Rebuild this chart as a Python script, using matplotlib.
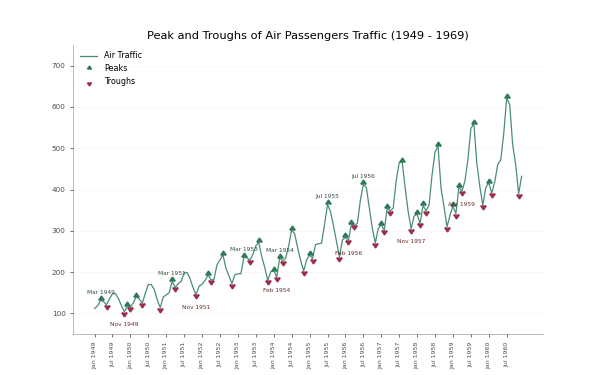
import numpy as np
import pandas as pd
import matplotlib
matplotlib.use("Agg")
import matplotlib.pyplot as plt
import matplotlib as mpl

# Monthly air passengers (thousands), 1949-1960
y1949 = [112, 118, 132, 129, 121, 135, 148, 148, 136, 119, 104, 118]
y1950 = [115, 126, 141, 135, 125, 149, 170, 170, 158, 133, 114, 140]
y1951 = [145, 150, 178, 163, 172, 178, 199, 199, 184, 162, 146, 166]
y1952 = [171, 180, 193, 181, 183, 218, 230, 242, 209, 191, 172, 194]
y1953 = [196, 196, 236, 235, 229, 243, 264, 272, 237, 211, 180, 201]
y1954 = [204, 188, 235, 227, 234, 264, 302, 293, 259, 229, 203, 229]
y1955 = [242, 233, 267, 269, 270, 315, 364, 347, 312, 274, 237, 278]
y1956 = [284, 277, 317, 313, 318, 374, 413, 405, 355, 306, 271, 306]
y1957 = [315, 301, 356, 348, 355, 422, 465, 467, 404, 347, 305, 336]
y1958 = [340, 318, 362, 348, 363, 435, 491, 505, 404, 359, 310, 337]
y1959 = [360, 342, 406, 396, 420, 472, 548, 559, 463, 407, 362, 405]
y1960 = [417, 391, 419, 461, 472, 535, 622, 606, 508, 461, 390, 432]

values = np.array(y1949 + y1950 + y1951 + y1952 + y1953 + y1954 +
                  y1955 + y1956 + y1957 + y1958 + y1959 + y1960)
dates = pd.date_range("1949-01-01", periods=len(values), freq="MS")
date_labels = [d.strftime("%b %Y") for d in dates]
title = "Peak and Troughs of Air Passengers Traffic (1949 - 1969)"

# Peaks and troughs
doublediff = np.diff(np.sign(np.diff(values)))
peak_locations = np.where(doublediff == -2)[0] + 1
doublediff2 = np.diff(np.sign(np.diff(-1 * values)))
trough_locations = np.where(doublediff2 == -2)[0] + 1

x = np.arange(len(values))

fig = plt.figure(figsize=(6, 3.75), dpi=100)
ax = fig.add_axes([0.122, 0.109, 0.783, 0.771])

line_color = "#4a8c7c"
peak_color = "#2f7a52"
trough_color = "#9c2f4a"

ax.plot(x, values, color=line_color, lw=0.9, label="Air Traffic")
ax.scatter(x[peak_locations], values[peak_locations],
           marker=mpl.markers.CARETUPBASE, color=peak_color, s=14, label="Peaks", zorder=3)
ax.scatter(x[trough_locations], values[trough_locations],
           marker=mpl.markers.CARETDOWNBASE, color=trough_color, s=14, label="Troughs", zorder=3)

for t, p in zip(trough_locations[1::5], peak_locations[::3]):
    ax.text(x[p], values[p] + 15, date_labels[p], ha="center", color="#2f4f3a", fontsize=4.2)
    ax.text(x[t], values[t] - 35, date_labels[t], ha="center", color="#6b2a2a", fontsize=4.2)

ax.set_ylim(50, 750)
ax.set_xlim(-7.15, 150.15)
ax.set_xticks(x[::6])
ax.set_xticklabels(date_labels[::6], rotation=90, fontsize=4.5, alpha=0.7)
ax.set_yticks([100, 200, 300, 400, 500, 600, 700])
ax.tick_params(axis="y", labelsize=5.2, length=2, width=0.4)
for lbl in ax.get_yticklabels():
    lbl.set_alpha(0.7)
ax.tick_params(axis="x", length=2, width=0.4)
ax.set_title(title, fontsize=8.2, pad=4)

ax.spines["top"].set_alpha(0.0)
ax.spines["right"].set_alpha(0.0)
ax.spines["bottom"].set_alpha(0.3)
ax.spines["left"].set_alpha(0.3)
ax.spines["bottom"].set_linewidth(0.6)
ax.spines["left"].set_linewidth(0.6)

ax.legend(loc="upper left", fontsize=5.8, frameon=False, handlelength=2.2,
          markerscale=0.75, borderaxespad=0.4)
ax.grid(axis="y", alpha=0.12, lw=0.5)

fig.savefig("out.png", dpi=100)
